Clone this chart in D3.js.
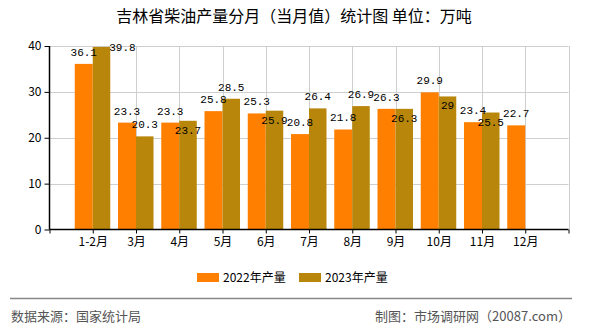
<!DOCTYPE html>
<html>
<head>
<meta charset="utf-8">
<script src="https://cdn.jsdelivr.net/npm/d3@7/dist/d3.min.js"></script>
<style>
  html, body { margin: 0; padding: 0; background: #fff; }
  svg { display: block; }
</style>
</head>
<body>
<svg id="chart" width="590" height="330"></svg>
<script>
// Monthly diesel output, Jilin province (10k tonnes)
const months = ["1-2月", "3月", "4月", "5月", "6月", "7月", "8月", "9月", "10月", "11月", "12月"];
const output2022 = [36.1, 23.3, 23.3, 25.8, 25.3, 20.8, 21.8, 26.3, 29.9, 23.4, 22.7];
const output2023 = [39.8, 20.3, 23.7, 28.5, 25.9, 26.4, 26.9, 26.3, 29, 25.5, null];
const seriesNames = ["2022年产量", "2023年产量"];
const yTicks = [0, 10, 20, 30, 40];

const colors = ["#FF8000", "#B8860B"];
const svg = d3.select("#chart");
const plot = { left: 49.5, right: 568.5, top: 46, bottom: 229.5 };

// categories sit at 1..n on a 0..n+1 axis, so the edges are padded by one slot
const x = d3.scaleLinear().domain([0, months.length + 1]).range([plot.left, plot.right]);
const y = d3.scaleLinear().domain([0, 40]).range([plot.bottom, plot.top]);
const barW = [18, 17.5];

// title
svg.append("text")
  .attr("x", 294).attr("y", 22)
  .attr("text-anchor", "middle")
  .attr("font-family", "'Noto Sans CJK SC', sans-serif")
  .attr("font-size", 16)
  .attr("fill", "#000")
  .text("吉林省柴油产量分月（当月值）统计图 单位：万吨");

// grid
const grid = svg.append("g").attr("stroke", "#cfcfcf").attr("stroke-width", 1);
yTicks.filter(d => d > 0).forEach(t => {
  grid.append("line").attr("x1", plot.left).attr("x2", plot.right)
    .attr("y1", Math.round(y(t)) + 0.5).attr("y2", Math.round(y(t)) + 0.5);
});
d3.range(1, months.length + 2).forEach(i => {
  grid.append("line").attr("x1", Math.round(x(i)) + 0.5).attr("x2", Math.round(x(i)) + 0.5)
    .attr("y1", plot.top).attr("y2", plot.bottom);
});

// bars
const series = [output2022, output2023];
const barsG = svg.append("g");
series.forEach((vals, s) => {
  barsG.selectAll(null)
    .data(vals.map((v, i) => ({ v, i })).filter(d => d.v != null))
    .enter().append("rect")
    .attr("x", d => s === 0 ? x(d.i + 1) - barW[0] : x(d.i + 1))
    .attr("width", barW[s])
    .attr("y", d => y(d.v))
    .attr("height", d => plot.bottom - y(d.v))
    .attr("fill", colors[s]);
});

// axes
const yAxis = d3.axisLeft(y).tickValues(yTicks).tickSize(5).tickPadding(3);
const yG = svg.append("g").attr("transform", `translate(${plot.left},0)`).call(yAxis);
const xAxis = d3.axisBottom(x).tickValues(d3.range(0, months.length + 2))
  .tickSize(4).tickPadding(4)
  .tickFormat(i => (i >= 1 && i <= months.length) ? months[i - 1] : "");
const xG = svg.append("g").attr("transform", `translate(0,${plot.bottom})`).call(xAxis);
[yG, xG].forEach(g => {
  g.select(".domain").attr("stroke", "#000").attr("stroke-width", 1.5);
  g.selectAll(".tick line").attr("stroke", "#000");
  g.selectAll("text").attr("fill", "#000")
    .attr("font-family", "'Noto Sans CJK SC', sans-serif").attr("font-size", 12);
});
xG.select(".domain").attr("d", `M${plot.left},0H${plot.right}`);
yG.select(".domain").attr("d", `M0,${plot.top}V${plot.bottom}`);

// value labels, with simple collision avoidance
const labelFont = "'Liberation Mono', monospace";
const labelSize = 11;
const charW = labelSize * 0.6;
const labels = [];
function boxOf(cx, cy, txt) {
  const w = txt.length * charW;
  return { x0: cx - w / 2, x1: cx + w / 2, y0: cy - 5.5, y1: cy + 5.5 };
}
function overlaps(a, b) {
  return a.x0 < b.x1 && b.x0 < a.x1 && a.y0 < b.y1 && b.y0 < a.y1;
}
months.forEach((m, i) => {
  const c = x(i + 1);
  // first series: centred above its bar
  const v0 = output2022[i];
  const t0 = String(v0);
  const b0 = boxOf(c - barW[0] / 2, y(v0) - 12, t0);
  labels.push({ t: t0, cx: c - barW[0] / 2, cy: y(v0) - 12, box: b0 });
  const v1 = output2023[i];
  if (v1 == null) return;
  const t1 = String(v1);
  const bc = c + barW[1] / 2;
  const top = y(v1);
  const w = t1.length * charW;
  const candidates = [
    { cx: bc, cy: top - 12 },
    { cx: bc, cy: top + 9 },
    { cx: c + barW[1] + w / 2 - 1, cy: top }
  ];
  let pick = candidates[candidates.length - 1];
  for (const cand of candidates) {
    const bx = boxOf(cand.cx, cand.cy, t1);
    if (bx.y0 < plot.top - 2) continue;
    if (overlaps(bx, b0)) continue;
    pick = cand; break;
  }
  labels.push({ t: t1, cx: pick.cx, cy: pick.cy });
});
svg.append("g").selectAll("text").data(labels).enter().append("text")
  .attr("x", d => d.cx).attr("y", d => d.cy + 4)
  .attr("text-anchor", "middle")
  .attr("font-family", labelFont).attr("font-size", labelSize)
  .attr("fill", "#000")
  .text(d => d.t);

// legend
const legend = svg.append("g");
const legX = [197, 299];
seriesNames.forEach((name, s) => {
  legend.append("rect").attr("x", legX[s]).attr("y", 273).attr("width", 22).attr("height", 9)
    .attr("fill", colors[s]);
  legend.append("text").attr("x", legX[s] + 26).attr("y", 282)
    .attr("font-family", "'Noto Sans CJK SC', sans-serif").attr("font-size", 12)
    .attr("fill", "#000").text(name);
});

// footer
svg.append("line").attr("x1", 10).attr("x2", 572).attr("y1", 298.5).attr("y2", 298.5)
  .attr("stroke", "#888").attr("stroke-width", 1.5);
svg.append("text").attr("x", 11).attr("y", 321)
  .attr("font-family", "'Noto Sans CJK SC', sans-serif").attr("font-size", 13)
  .attr("fill", "#555").text("数据来源：国家统计局");
svg.append("text").attr("x", 571).attr("y", 321).attr("text-anchor", "end")
  .attr("font-family", "'Noto Sans CJK SC', sans-serif").attr("font-size", 13)
  .attr("fill", "#555").text("制图：市场调研网（20087.com）");
</script>
</body>
</html>
